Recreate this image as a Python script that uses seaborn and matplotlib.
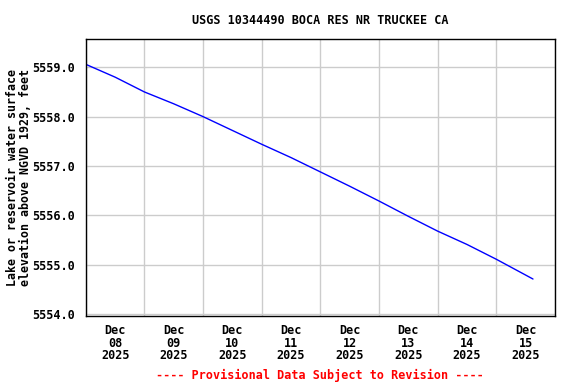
import matplotlib
matplotlib.use("Agg")
import matplotlib.pyplot as plt
import matplotlib.dates as mdates
import pandas as pd
import seaborn as sns

# Boca Res gage height, every 12 h
times = pd.to_datetime([
    "2025-12-08 00:00", "2025-12-08 12:00", "2025-12-09 00:00", "2025-12-09 12:00",
    "2025-12-10 00:00", "2025-12-10 12:00", "2025-12-11 00:00", "2025-12-11 12:00",
    "2025-12-12 00:00", "2025-12-12 12:00", "2025-12-13 00:00", "2025-12-13 12:00",
    "2025-12-14 00:00", "2025-12-14 12:00", "2025-12-15 00:00", "2025-12-15 15:00",
])
elevation = [
    5559.06, 5558.80, 5558.50, 5558.26,
    5558.00, 5557.72, 5557.44, 5557.17,
    5556.88, 5556.59, 5556.29, 5555.98,
    5555.68, 5555.41, 5555.11, 5554.71,
]
y_ticks = [5554.0, 5555.0, 5556.0, 5557.0, 5558.0, 5559.0]

df = pd.DataFrame({"time": times, "elev": elevation})

sns.set_style("white")
plt.rcParams["font.family"] = ["DejaVu Sans Mono"]
plt.rcParams["font.weight"] = "bold"
plt.rcParams["font.size"] = 8.5
plt.rcParams["text.color"] = "black"
plt.rcParams["axes.labelcolor"] = "black"
plt.rcParams["xtick.color"] = "black"
plt.rcParams["ytick.color"] = "black"

fig = plt.figure(figsize=(5.76, 3.84), dpi=100)
ax = fig.add_axes([0.149, 0.177, 0.8145, 0.721])

sns.lineplot(data=df, x="time", y="elev", color="#0000ff", linewidth=1.0, ax=ax)

ax.set_xlim(pd.Timestamp("2025-12-08"), pd.Timestamp("2025-12-16"))
ax.set_ylim(5553.96, 5559.57)

# gridlines at midnight, labels at noon
ax.xaxis.set_major_locator(mdates.DayLocator())
ax.xaxis.set_major_formatter(plt.NullFormatter())
ax.xaxis.set_minor_locator(mdates.HourLocator(byhour=[12]))
ax.xaxis.set_minor_formatter(mdates.DateFormatter("%b\n%d\n%Y"))
ax.tick_params(axis="x", which="both", length=0, pad=6)
for lbl in ax.xaxis.get_minorticklabels():
    lbl.set_fontweight("bold")
    lbl.set_linespacing(0.95)

ax.set_yticks(y_ticks)
ax.set_yticklabels([f"{v:.1f}" for v in y_ticks], fontweight="bold")
ax.tick_params(axis="y", length=0, pad=8)

ax.grid(True, which="major", color="#cccccc", linewidth=1.0)
ax.set_axisbelow(True)
for s in ax.spines.values():
    s.set_color("black")
    s.set_linewidth(1.0)

ax.set_xlabel("")
ax.set_ylabel("Lake or reservoir water surface\nelevation above NGVD 1929, feet",
              fontweight="bold", fontsize=8.4, linespacing=0.95)
ax.yaxis.set_label_coords(-0.115, 0.5)
ax.set_title("USGS 10344490 BOCA RES NR TRUCKEE CA", fontweight="bold",
             fontsize=8.5, pad=11)

fig.text(0.556, 0.023, "---- Provisional Data Subject to Revision ----",
         color="red", ha="center", va="center", fontweight="bold")

fig.savefig("out.png", dpi=100)
